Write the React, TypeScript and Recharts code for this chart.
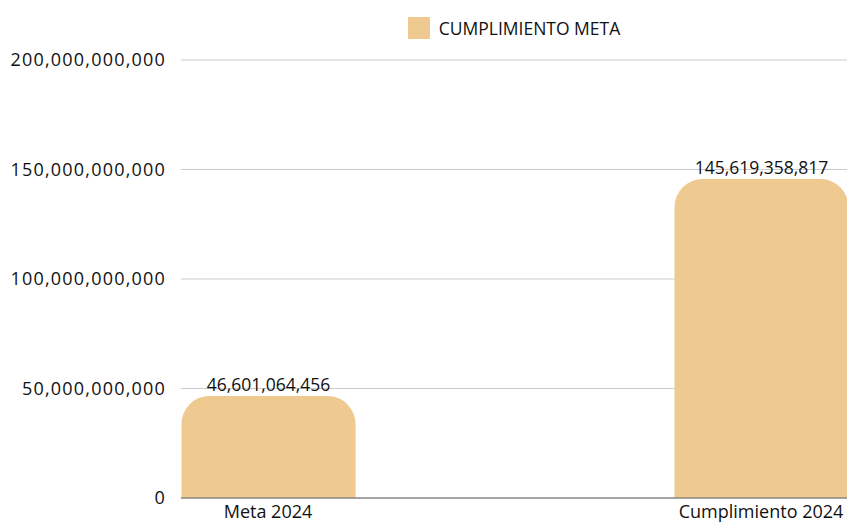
import React from "react";
import { BarChart, Bar, XAxis, YAxis, CartesianGrid, Legend, LabelList } from "recharts";

const CATEGORIES = ["Meta 2024", "Cumplimiento 2024"];
const VALUES = [46601064456, 145619358817];
const Y_TICKS = [0, 50000000000, 100000000000, 150000000000, 200000000000];
const SERIES_NAME = "CUMPLIMIENTO META";

const BAR_COLOR = "#EEC990";
const FONT = "'Open Sans', sans-serif";

const data = CATEGORIES.map((name, i) => ({ idx: i, name, value: VALUES[i] }));

const fmt = (v: number) => v.toLocaleString("en-US");

function LegendBox() {
  return (
    <div style={{ display: "flex", justifyContent: "center", alignItems: "center", fontFamily: FONT, fontSize: 17.5, color: "#111" }}>
      <span style={{ width: 22, height: 22, background: BAR_COLOR, display: "inline-block", marginRight: 9 }} />
      <span>{SERIES_NAME}</span>
    </div>
  );
}

export default function App() {
  return (
    <div style={{ padding: "8px 0 0 8px", width: 839, height: 517, fontFamily: FONT }}>
      {/* chart runs to the window edge, so kill the body margin + scrollbars */}
      <style>{"html,body{margin:0;padding:0;overflow:hidden}"}</style>
      <BarChart width={839} height={517} data={data} margin={{ top: 28, right: 0, left: 0, bottom: 0 }}>
        <CartesianGrid vertical={false} stroke="#cccccc" />
        <XAxis
          dataKey="idx"
          type="number"
          domain={[-0.1765, 1.1744]}
          ticks={[0, 1]}
          tickFormatter={(v: number) => CATEGORIES[v] ?? ""}
          allowDataOverflow
          height={27}
          tickLine={false}
          tickSize={0}
          tickMargin={7}
          stroke="#666"
          tick={{ fill: "#111", fontSize: 18, fontFamily: FONT }}
        />
        <YAxis
          domain={[0, 200000000000]}
          ticks={Y_TICKS}
          width={173}
          axisLine={false}
          tickLine={false}
          tickSize={0}
          tickMargin={15}
          tickFormatter={fmt}
          tick={{ fill: "#111", fontSize: 18, fontFamily: FONT, letterSpacing: 1.2 }}
        />
        <Legend
          verticalAlign="top"
          align="center"
          wrapperStyle={{ top: 8, left: 173, width: 666 }}
          content={() => <LegendBox />}
        />
        <Bar dataKey="value" name={SERIES_NAME} fill={BAR_COLOR} barSize={174} radius={[28, 28, 0, 0]} isAnimationActive={false}>
          <LabelList dataKey="value" position="top" formatter={(v: any) => fmt(Number(v))} fill="#111" fontSize={17.5} fontFamily={FONT} />
        </Bar>
      </BarChart>
    </div>
  );
}
